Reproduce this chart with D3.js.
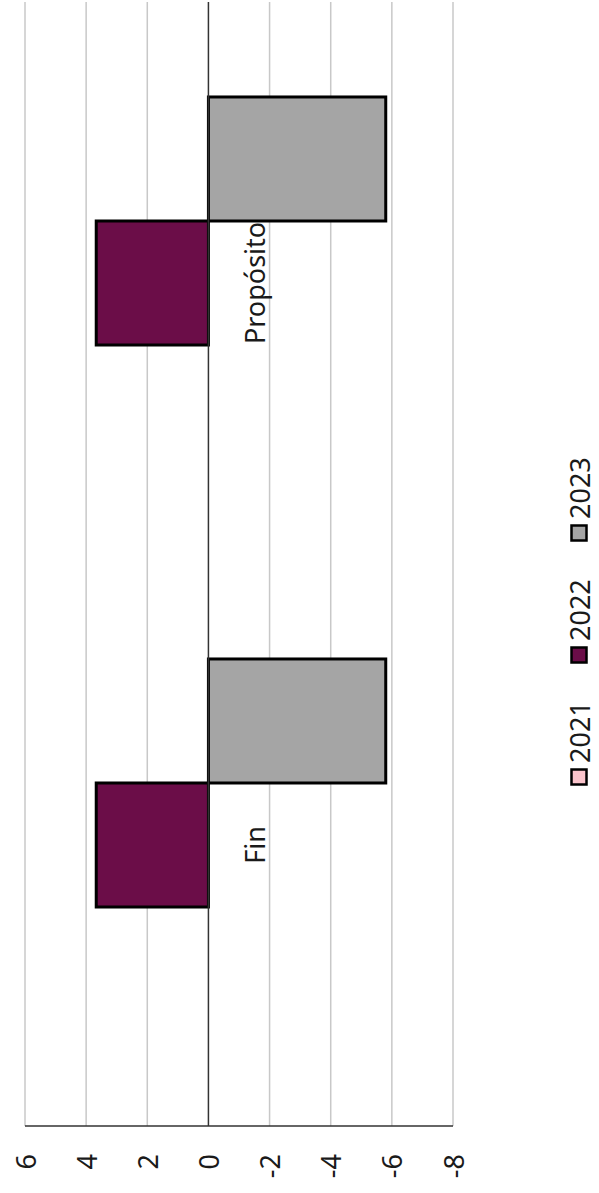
<!DOCTYPE html>
<html>
<head>
<meta charset="utf-8">
<script src="https://cdn.jsdelivr.net/npm/d3@7"></script>
<style>
  html, body { margin: 0; padding: 0; background: #fff; }
  svg { display: block; }
  text { font-family: "Noto Sans", "Open Sans", sans-serif; fill: #1a1a1a; }
</style>
</head>
<body>
<svg id="chart" width="599" height="1193"></svg>
<script>
const categories = ["Propósito", "Fin"];
const seriesNames = ["2023", "2022", "2021"];
const series2021 = [0, 0];
const series2022 = [3.67, 3.67];
const series2023 = [-5.8, -5.8];
const tickValues = [6, 4, 2, 0, -2, -4, -6, -8];
const legendNames = ["2021", "2022", "2023"];
const colors = { "2021": "#fbc4cc", "2022": "#6b0d48", "2023": "#a5a5a5" };

const valuesBySeries = { "2021": series2021, "2022": series2022, "2023": series2023 };

const svg = d3.select("#chart");
const plotTop = 2, plotBottom = 1126;
const fontSize = 27;

const x = d3.scaleLinear().domain([6, -8]).range([25, 453]);
const y = d3.scaleBand().domain(categories).range([plotTop, plotBottom])
  .paddingInner(0.338).paddingOuter(0.169);
const ySub = d3.scaleBand().domain(seriesNames).range([0, y.bandwidth()]);

// gridlines
svg.append("g").selectAll("line").data(tickValues.filter(d => d !== 0)).join("line")
  .attr("x1", d => x(d)).attr("x2", d => x(d))
  .attr("y1", plotTop).attr("y2", plotBottom)
  .attr("stroke", "#c8c8c8").attr("stroke-width", 1.5);

// bars
const groups = svg.append("g").selectAll("g").data(categories).join("g")
  .attr("transform", d => `translate(0,${y(d)})`);
groups.selectAll("rect")
  .data((c, i) => seriesNames.map(s => ({ s, v: valuesBySeries[s][i] })))
  .join("rect")
  .attr("x", d => Math.min(x(0), x(d.v)))
  .attr("width", d => Math.abs(x(d.v) - x(0)))
  .attr("y", d => ySub(d.s))
  .attr("height", ySub.bandwidth())
  .attr("fill", d => colors[d.s])
  .attr("stroke", "#000").attr("stroke-width", 3)
  .attr("display", d => d.v === 0 ? "none" : null);

// zero line
svg.append("line")
  .attr("x1", x(0)).attr("x2", x(0)).attr("y1", plotTop).attr("y2", plotBottom)
  .attr("stroke", "#333").attr("stroke-width", 1.5);

// bottom axis line
svg.append("line")
  .attr("x1", x(6)).attr("x2", x(-8)).attr("y1", plotBottom).attr("y2", plotBottom)
  .attr("stroke", "#333").attr("stroke-width", 1.5);

// tick labels (rotated)
svg.append("g").selectAll("text").data(tickValues).join("text")
  .attr("transform", d => `translate(${x(d)},1154) rotate(-90)`)
  .attr("text-anchor", "end")
  .attr("dominant-baseline", "central")
  .attr("font-size", fontSize)
  .text(d => d);

// category labels
svg.append("g").selectAll("text").data(categories).join("text")
  .attr("transform", d => `translate(254,${y(d) + y.bandwidth() / 2}) rotate(-90)`)
  .attr("text-anchor", "middle")
  .attr("dominant-baseline", "central")
  .attr("font-size", fontSize)
  .text(d => d);

// legend
const legendY = d3.scalePoint().domain(legendNames).range([777, 533]);
const lg = svg.append("g").selectAll("g").data(legendNames).join("g")
  .attr("transform", d => `translate(579,${legendY(d)})`);
lg.append("rect")
  .attr("x", -7.5).attr("y", -7.5).attr("width", 15).attr("height", 15)
  .attr("fill", d => colors[d]).attr("stroke", "#000").attr("stroke-width", 2.5);
lg.append("text")
  .attr("transform", "translate(0,-14) rotate(-90)")
  .attr("text-anchor", "start")
  .attr("dominant-baseline", "central")
  .attr("font-size", fontSize)
  .text(d => d);
</script>
</body>
</html>
